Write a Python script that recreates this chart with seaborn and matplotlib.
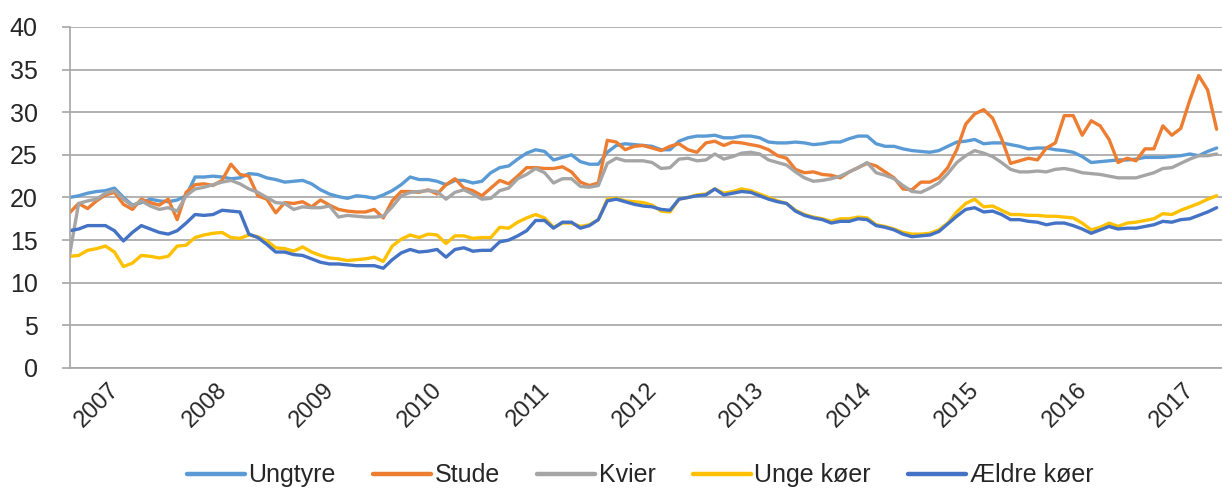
import numpy as np
import pandas as pd
import matplotlib
matplotlib.use('Agg')
import matplotlib.pyplot as plt
import seaborn as sns

# monthly prices, Jan 2007 - Sep 2017
years = ['2007', '2008', '2009', '2010', '2011', '2012',
         '2013', '2014', '2015', '2016', '2017']
series_names = ['Ungtyre', 'Stude', 'Kvier', 'Unge køer', 'Ældre køer']
colors = ['#5B9BD5', '#ED7D31', '#A5A5A5', '#FFC000', '#4472C4']

ungtyre = [20.0, 20.2, 20.5, 20.7, 20.8, 21.1, 20.0, 19.1, 19.4, 19.8, 19.6, 19.5,
           19.7, 20.2, 22.4, 22.4, 22.5, 22.4, 22.2, 22.3, 22.8, 22.7,
           22.3, 22.1, 21.8, 21.9, 22.0, 21.6, 20.9, 20.4, 20.1, 19.9, 20.2, 20.1,
           19.9, 20.3, 20.8, 21.5, 22.4, 22.1, 22.1, 21.9, 21.5, 22.0,
           22.0, 21.7, 21.9, 22.9, 23.5, 23.7, 24.5, 25.2, 25.6, 25.4, 24.4, 24.7,
           25.0, 24.2, 23.9, 23.9, 25.3, 26.1, 26.3, 26.2, 26.1,
           26.0, 25.6, 25.6, 26.6, 27.0, 27.2, 27.2, 27.3, 27.0, 27.0, 27.2, 27.2,
           27.0, 26.5, 26.4, 26.4, 26.5, 26.4, 26.2, 26.3, 26.5,
           26.5, 26.9, 27.2, 27.2, 26.3, 26.0, 26.0, 25.7, 25.5, 25.4, 25.3, 25.5,
           26.0, 26.5, 26.6, 26.8, 26.3, 26.4, 26.4, 26.2, 26.0, 25.7,
           25.8, 25.8, 25.6, 25.5, 25.3, 24.8, 24.1, 24.2, 24.3, 24.4, 24.4, 24.5,
           24.7, 24.7, 24.7, 24.8, 24.9, 25.1, 24.9, 25.4, 25.8]

stude = [18.2, 19.3, 18.7, 19.6, 20.3, 20.6, 19.2, 18.6, 19.8, 19.4, 19.1, 19.8,
         17.4, 20.6, 21.5, 21.6, 21.4, 22.0, 23.9, 22.7, 22.5, 20.2,
         19.8, 18.2, 19.4, 19.3, 19.5, 18.9, 19.7, 19.1, 18.6, 18.4, 18.3, 18.3,
         18.6, 17.6, 19.6, 20.7, 20.7, 20.6, 20.9, 20.4, 21.5, 22.2,
         21.1, 20.8, 20.2, 21.1, 22.0, 21.6, 22.5, 23.5, 23.5, 23.4, 23.4, 23.6,
         23.0, 21.8, 21.4, 21.7, 26.7, 26.5, 25.6, 26.0, 26.1,
         25.8, 25.5, 26.0, 26.3, 25.6, 25.3, 26.4, 26.6, 26.1, 26.5, 26.4, 26.2,
         26.0, 25.6, 24.9, 24.6, 23.3, 22.9, 23.0, 22.7, 22.6,
         22.3, 23.0, 23.5, 24.0, 23.7, 23.0, 22.3, 21.0, 20.9, 21.8, 21.8, 22.3,
         23.5, 25.6, 28.6, 29.8, 30.3, 29.3, 26.9, 24.0, 24.3, 24.6,
         24.4, 25.8, 26.4, 29.6, 29.6, 27.3, 29.0, 28.4, 26.8, 24.1, 24.6, 24.3,
         25.7, 25.7, 28.4, 27.3, 28.1, 31.4, 34.3, 32.6, 28.0]

kvier = [13.3, 19.3, 19.6, 19.8, 20.5, 20.8, 19.8, 19.0, 19.6, 19.0, 18.6, 18.8,
         18.4, 20.2, 21.0, 21.2, 21.5, 21.8, 22.0, 21.6, 21.0, 20.6,
         20.0, 19.4, 19.3, 18.6, 18.9, 18.8, 18.8, 19.0, 17.7, 17.9, 17.8, 17.7,
         17.7, 17.8, 18.9, 20.2, 20.6, 20.7, 20.8, 20.7, 19.8, 20.6,
         20.9, 20.4, 19.8, 19.9, 20.8, 21.1, 22.2, 22.7, 23.4, 22.9, 21.7, 22.2,
         22.2, 21.3, 21.2, 21.4, 24.0, 24.6, 24.3, 24.3, 24.3,
         24.1, 23.4, 23.5, 24.5, 24.6, 24.3, 24.4, 25.1, 24.5, 24.8, 25.2, 25.3,
         25.1, 24.4, 24.1, 23.8, 23.0, 22.3, 21.9, 22.0, 22.2,
         22.5, 23.0, 23.5, 24.1, 22.9, 22.6, 22.2, 21.4, 20.7, 20.6, 21.1, 21.7,
         22.8, 24.1, 24.9, 25.5, 25.2, 24.8, 24.1, 23.3, 23.0, 23.0,
         23.1, 23.0, 23.3, 23.4, 23.2, 22.9, 22.8, 22.7, 22.5, 22.3, 22.3, 22.3,
         22.6, 22.9, 23.4, 23.5, 24.0, 24.5, 24.9, 24.9, 25.1]

unge_koer = [13.1, 13.2, 13.8, 14.0, 14.3, 13.6, 11.9, 12.3, 13.2, 13.1, 12.9, 13.1,
             14.3, 14.4, 15.3, 15.6, 15.8, 15.9, 15.3, 15.2, 15.6, 15.4,
             14.9, 14.1, 14.0, 13.7, 14.2, 13.6, 13.2, 12.9, 12.8, 12.6, 12.7, 12.8,
             13.0, 12.5, 14.3, 15.1, 15.6, 15.3, 15.7, 15.6, 14.6, 15.5,
             15.5, 15.2, 15.3, 15.3, 16.5, 16.4, 17.1, 17.6, 18.0, 17.6, 16.5, 17.0,
             17.0, 16.6, 16.8, 17.4, 19.8, 19.9, 19.6, 19.5, 19.4,
             19.1, 18.4, 18.3, 19.8, 20.0, 20.3, 20.4, 21.0, 20.5, 20.7, 21.0, 20.8,
             20.4, 20.0, 19.6, 19.3, 18.5, 18.0, 17.7, 17.5, 17.2,
             17.5, 17.5, 17.7, 17.6, 16.8, 16.6, 16.3, 15.9, 15.7, 15.7, 15.8, 16.2,
             17.0, 18.3, 19.3, 19.8, 18.9, 19.0, 18.5, 18.0, 18.0, 17.9,
             17.9, 17.8, 17.8, 17.7, 17.6, 17.0, 16.2, 16.5, 17.0, 16.6, 17.0, 17.1,
             17.3, 17.5, 18.1, 18.0, 18.5, 18.9, 19.3, 19.8, 20.2]

aeldre_koer = [16.1, 16.3, 16.7, 16.7, 16.7, 16.1, 14.9, 15.9, 16.7, 16.3, 15.9, 15.7,
               16.1, 17.0, 18.0, 17.9, 18.0, 18.5, 18.4, 18.3, 15.7, 15.3,
               14.5, 13.6, 13.6, 13.3, 13.2, 12.8, 12.4, 12.2, 12.2, 12.1, 12.0, 12.0,
               12.0, 11.7, 12.7, 13.5, 13.9, 13.6, 13.7, 13.9, 13.0, 13.9,
               14.1, 13.7, 13.8, 13.8, 14.8, 15.0, 15.5, 16.1, 17.3, 17.3, 16.4, 17.1,
               17.1, 16.4, 16.7, 17.4, 19.6, 19.8, 19.5, 19.2, 19.0,
               18.9, 18.6, 18.5, 19.8, 20.0, 20.2, 20.3, 21.0, 20.3, 20.5, 20.7, 20.6,
               20.2, 19.8, 19.5, 19.3, 18.4, 17.9, 17.6, 17.4, 17.0,
               17.2, 17.2, 17.5, 17.4, 16.7, 16.5, 16.2, 15.7, 15.4, 15.5, 15.6, 16.0,
               16.9, 17.8, 18.6, 18.8, 18.3, 18.4, 18.0, 17.4, 17.4, 17.2,
               17.1, 16.8, 17.0, 17.0, 16.7, 16.3, 15.8, 16.2, 16.6, 16.3, 16.4, 16.4,
               16.6, 16.8, 17.2, 17.1, 17.4, 17.5, 17.9, 18.3, 18.8]

frames = []
for name, vals in zip(series_names, [ungtyre, stude, kvier, unge_koer, aeldre_koer]):
    frames.append(pd.DataFrame({'month': np.arange(len(vals)), 'pris': vals, 'serie': name}))
df = pd.concat(frames, ignore_index=True)

sns.set_style('white')
plt.rcParams['font.family'] = ['Liberation Sans', 'DejaVu Sans']

grid_color = '#a6a6a6'
font_size = 18

fig = plt.figure(figsize=(12.22, 4.9), dpi=100)
ax = fig.add_axes([0.057, 0.249, 0.943, 0.696])

sns.lineplot(data=df, x='month', y='pris', hue='serie', hue_order=series_names,
             palette=colors, linewidth=2.4, estimator=None, sort=False, ax=ax)

ax.set_xlim(0, 128.6)
ax.set_ylim(0, 40)
ax.set_yticks(range(0, 41, 5))
ax.yaxis.grid(True, color=grid_color, linewidth=1.2)
ax.xaxis.grid(False)
ax.set_axisbelow(True)

for side in ['top', 'right']:
    ax.spines[side].set_visible(False)
for side in ['left', 'bottom']:
    ax.spines[side].set_color(grid_color)
    ax.spines[side].set_linewidth(1.2)

# year boundaries as tick marks, labels placed inside each year
ax.set_xticks([12 * k for k in range(len(years))], minor=True)
ax.set_xticks([12 * k + 4.3 for k in range(len(years))])
ax.set_xticklabels(years, rotation=45, ha='right', va='top', rotation_mode='anchor')
ax.tick_params(axis='x', which='minor', length=6, width=1.2, color=grid_color, direction='out')
ax.tick_params(axis='x', which='major', length=0, pad=8, labelsize=font_size - 1)
ax.tick_params(axis='y', length=6, width=1.2, color=grid_color, direction='out',
               pad=17, labelsize=font_size, left=True)

ax.set_xlabel('')
ax.set_ylabel('')

handles, labels = ax.get_legend_handles_labels()
ax.get_legend().remove()
leg = fig.legend(handles, labels, loc='center', bbox_to_anchor=(0.524, 0.03), ncol=5,
                 frameon=False, fontsize=font_size, handlelength=2.3, handletextpad=0.15,
                 columnspacing=1.5)
for line in leg.get_lines():
    line.set_linewidth(3.2)

plt.savefig('out.png', dpi=100)
